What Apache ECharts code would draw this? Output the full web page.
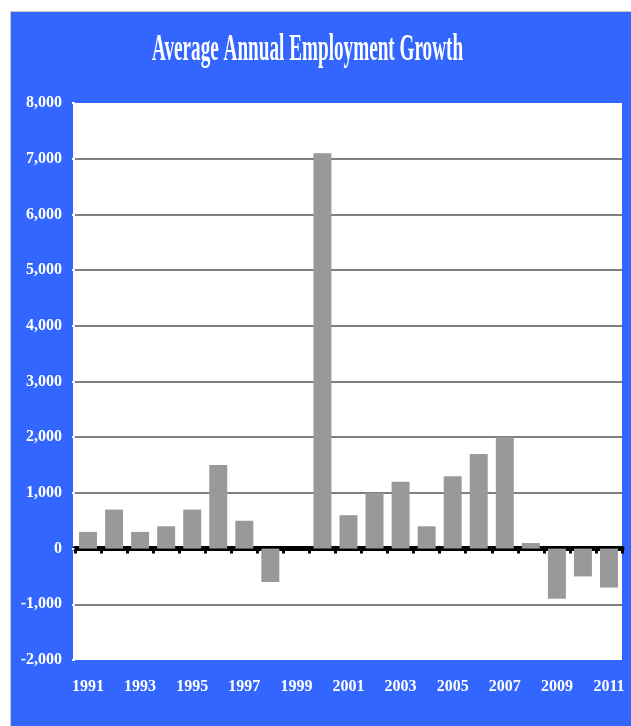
<!DOCTYPE html>
<html>
<head>
<meta charset="utf-8">
<script src="https://cdn.jsdelivr.net/npm/echarts@6/dist/echarts.min.js"></script>
<style>
  html, body { margin: 0; padding: 0; background: #ffffff; }
  #chart { width: 631px; height: 726px; }
</style>
</head>
<body>
<div id="chart"></div>
<script>
// Average annual employment growth, 1991–2011
const years = ['1991','1992','1993','1994','1995','1996','1997','1998','1999','2000',
               '2001','2002','2003','2004','2005','2006','2007','2008','2009','2010','2011'];
const growth = [300, 700, 300, 400, 700, 1500, 500, -600, 0, 7100,
                600, 1000, 1200, 400, 1300, 1700, 2000, 100, -900, -500, -700];
const yTicks = { min: -2000, max: 8000, step: 1000 };

const labelFont = 'Liberation Serif';
const grid = { left: 75, right: 9, top: 103, bottom: 66 };
const gridColor = '#7f7f7f';

// split line colours from min to max; the top, bottom and zero lines are left out
const splitColors = [];
for (let v = yTicks.min; v <= yTicks.max; v += yTicks.step) {
  splitColors.push(v === yTicks.min || v === yTicks.max || v === 0 ? 'rgba(0,0,0,0)' : gridColor);
}

const chart = echarts.init(document.getElementById('chart'), null, { renderer: 'canvas' });
chart.setOption({
  backgroundColor: '#ffffff',
  animation: false,
  graphic: [
    { type: 'rect', left: 10, top: 11, shape: { width: 621, height: 715 },
      style: { fill: '#3366ff', stroke: '#c8c8c8', lineWidth: 1 }, z: -10 },
    { type: 'rect', left: 73, top: 103, shape: { width: 549, height: 557 },
      style: { fill: '#ffffff' }, z: -9 },
    // narrow, tall title lettering
    { type: 'text', x: 152, y: 31, scaleX: 0.505, scaleY: 1,
      style: { text: 'Average Annual Employment Growth', fill: '#ffffff',
               font: 'bold 38px "Liberation Serif"', textVerticalAlign: 'top' } }
  ],
  grid: { left: grid.left, right: grid.right, top: grid.top, bottom: grid.bottom,
          containLabel: false, outerBoundsMode: 'none' },
  xAxis: [
    {
      // year labels along the bottom of the plot
      type: 'category',
      data: years,
      position: 'bottom',
      axisLine: { show: false, onZero: false },
      axisTick: { show: false },
      axisLabel: { interval: 1, margin: 19, color: '#ffffff', fontFamily: labelFont,
                   fontWeight: 'bold', fontSize: 16 }
    },
    {
      // thick zero line with category ticks
      type: 'category',
      data: years,
      position: 'bottom',
      axisLine: { show: true, onZero: true, lineStyle: { color: '#000000', width: 5 } },
      axisTick: { show: true, interval: 0, alignWithLabel: false, length: 5,
                  lineStyle: { color: '#000000', width: 3 } },
      axisLabel: { show: false }
    }
  ],
  yAxis: {
    type: 'value',
    min: yTicks.min, max: yTicks.max, interval: yTicks.step,
    axisLine: { show: false },
    axisTick: { show: true, length: 3, lineStyle: { color: '#ffffff', width: 2 } },
    axisLabel: {
      margin: 13, color: '#ffffff', fontFamily: labelFont, fontWeight: 'bold', fontSize: 16,
      formatter: v => v.toLocaleString('en-US')
    },
    splitLine: { show: true, lineStyle: { color: splitColors, width: 2 } }
  },
  series: [{
    type: 'bar',
    xAxisIndex: 0,
    data: growth,
    barCategoryGap: '31%',
    itemStyle: { color: '#999999' },
    z: 1
  }]
});
</script>
</body>
</html>
